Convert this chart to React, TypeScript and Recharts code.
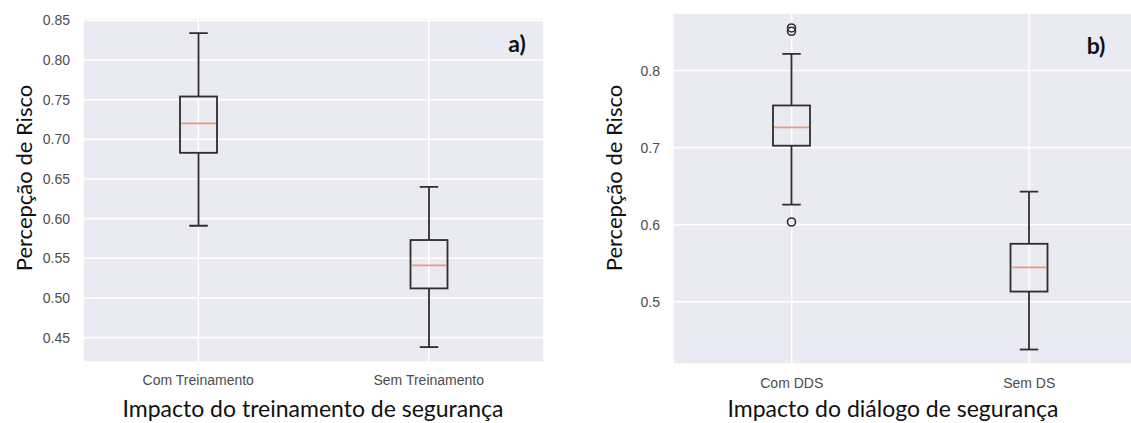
import React from 'react';
import { ComposedChart, Bar, XAxis, YAxis, CartesianGrid, Label } from 'recharts';

// ---------- Panel a) data ----------
const categoriesA = ['Com Treinamento', 'Sem Treinamento'];
const whiskerLowA = [0.591, 0.438];
const q1A = [0.683, 0.512];
const medianA = [0.72, 0.541];
const q3A = [0.754, 0.573];
const whiskerHighA = [0.834, 0.64];
const outliersA: number[][] = [[], []];
const ticksA = [0.45, 0.5, 0.55, 0.6, 0.65, 0.7, 0.75, 0.8, 0.85];
const domainA = [0.4192, 0.853];

// ---------- Panel b) data ----------
const categoriesB = ['Com DDS', 'Sem DS'];
const whiskerLowB = [0.626, 0.438];
const q1B = [0.7025, 0.5132];
const medianB = [0.7262, 0.5445];
const q3B = [0.7547, 0.5752];
const whiskerHighB = [0.8216, 0.6429];
const outliersB: number[][] = [[0.6035, 0.851, 0.8553], []];
const ticksB = [0.5, 0.6, 0.7, 0.8];
const domainB = [0.4192, 0.8747];

const yTitle = 'Percepção de Risco';
const xTitleA = 'Impacto do treinamento de segurança';
const xTitleB = 'Impacto do diálogo de segurança';

const BG = '#EAEAF2';
const LINE = '#2e2e2e';
const MEDIAN = '#E9997E';
const TICK = '#4d4d4d';

function buildRows(cats: string[], lo: number[], q1: number[], med: number[], q3: number[], hi: number[], out: number[][]) {
  return cats.map((name, i) => ({
    name,
    whisker: [lo[i], hi[i]],
    q1: q1[i],
    median: med[i],
    q3: q3[i],
    outliers: out[i],
  }));
}

const BoxShape = (props: any) => {
  const { x, y, width, height, payload } = props;
  if (!payload) return null;
  const top = Math.min(y, y + height);
  const bot = Math.max(y, y + height);
  const lo = payload.whisker[0];
  const hi = payload.whisker[1];
  const k = (bot - top) / (hi - lo);
  const py = (v: number) => top + (hi - v) * k;
  const cx = x + width / 2;
  const capHalf = width / 4;
  const yq1 = py(payload.q1);
  const yq3 = py(payload.q3);
  const ym = py(payload.median);
  const sw = 1.8;
  return (
    <g>
      <line x1={cx} x2={cx} y1={top} y2={yq3} stroke={LINE} strokeWidth={sw} />
      <line x1={cx} x2={cx} y1={yq1} y2={bot} stroke={LINE} strokeWidth={sw} />
      <line x1={cx - capHalf} x2={cx + capHalf} y1={top} y2={top} stroke={LINE} strokeWidth={sw} />
      <line x1={cx - capHalf} x2={cx + capHalf} y1={bot} y2={bot} stroke={LINE} strokeWidth={sw} />
      <rect x={x} y={yq3} width={width} height={yq1 - yq3} fill="none" stroke={LINE} strokeWidth={sw} />
      <line x1={x + 1} x2={x + width - 1} y1={ym} y2={ym} stroke={MEDIAN} strokeWidth={1.8} />
      {payload.outliers.map((v: number, i: number) => (
        <circle key={i} cx={cx} cy={py(v)} r={4} fill="none" stroke={LINE} strokeWidth={1.6} />
      ))}
    </g>
  );
};

const fixedText = (tx: number, ty: number, text: string, style: any, rotate = false) => () => (
  <text
    x={tx}
    y={ty}
    textAnchor="middle"
    transform={rotate ? `rotate(-90 ${tx} ${ty})` : undefined}
    style={style}
  >
    {text}
  </text>
);

const yTitleStyle = { fontFamily: 'Lato', fontSize: 22, fill: '#111' };
const xTitleStyle = { fontFamily: 'Lato', fontSize: 23, fill: '#111' };
const letterStyle = { fontFamily: 'Lato', fontSize: 23, fontWeight: 700, fill: '#111' };

type PanelProps = {
  rows: any[];
  width: number;
  margin: any;
  domain: number[];
  ticks: number[];
  decimals: number;
  xTitle: string;
  xTitlePos: [number, number];
  yTitlePos: [number, number];
  letter: string;
  letterPos: [number, number];
  tickMarginX: number;
};

function Panel(p: PanelProps) {
  return (
    <ComposedChart width={p.width} height={423} data={p.rows} margin={p.margin} barSize={37}>
      <CartesianGrid fill={BG} fillOpacity={1} stroke="#FFFFFF" strokeWidth={1.6} />
      <XAxis
        dataKey="name"
        axisLine={false}
        tickLine={false}
        height={30}
        tickMargin={p.tickMarginX}
        tick={{ fontFamily: 'Liberation Sans, Arial', fontSize: 14, fill: TICK }}
      >
        <Label content={fixedText(p.xTitlePos[0], p.xTitlePos[1], p.xTitle, xTitleStyle)} />
      </XAxis>
      <YAxis
        type="number"
        domain={p.domain}
        ticks={p.ticks}
        allowDataOverflow
        axisLine={false}
        tickLine={false}
        width={60}
        tickMargin={7}
        tickFormatter={(v: number) => v.toFixed(p.decimals)}
        tick={{ fontFamily: 'Liberation Sans, Arial', fontSize: 14, fill: TICK }}
      >
        <Label content={fixedText(p.yTitlePos[0], p.yTitlePos[1], yTitle, yTitleStyle, true)} />
        <Label content={fixedText(p.letterPos[0], p.letterPos[1], p.letter, letterStyle)} />
      </YAxis>
      <Bar dataKey="whisker" shape={BoxShape} isAnimationActive={false} />
    </ComposedChart>
  );
}

export default function App() {
  const rowsA = buildRows(categoriesA, whiskerLowA, q1A, medianA, q3A, whiskerHighA, outliersA);
  const rowsB = buildRows(categoriesB, whiskerLowB, q1B, medianB, q3B, whiskerHighB, outliersB);
  return (
    <div style={{ position: 'absolute', left: 0, top: 0, width: 1131, height: 423, overflow: 'hidden', background: '#fff' }}>
      <div style={{ position: 'absolute', left: 0, top: 0 }}>
        <Panel
          rows={rowsA}
          width={560}
          margin={{ top: 18, right: 16, bottom: 31, left: 23 }}
          domain={domainA}
          ticks={ticksA}
          decimals={2}
          xTitle={xTitleA}
          xTitlePos={[313, 417]}
          yTitlePos={[32, 178]}
          letter="a)"
          letterPos={[517, 52]}
          tickMarginX={7}
        />
      </div>
      <div style={{ position: 'absolute', left: 570, top: 0 }}>
        <Panel
          rows={rowsB}
          width={600}
          margin={{ top: 13, right: 22, bottom: 29, left: 43 }}
          domain={domainB}
          ticks={ticksB}
          decimals={1}
          xTitle={xTitleB}
          xTitlePos={[323, 417]}
          yTitlePos={[52, 178]}
          letter="b)"
          letterPos={[526, 54]}
          tickMarginX={8}
        />
      </div>
    </div>
  );
}
